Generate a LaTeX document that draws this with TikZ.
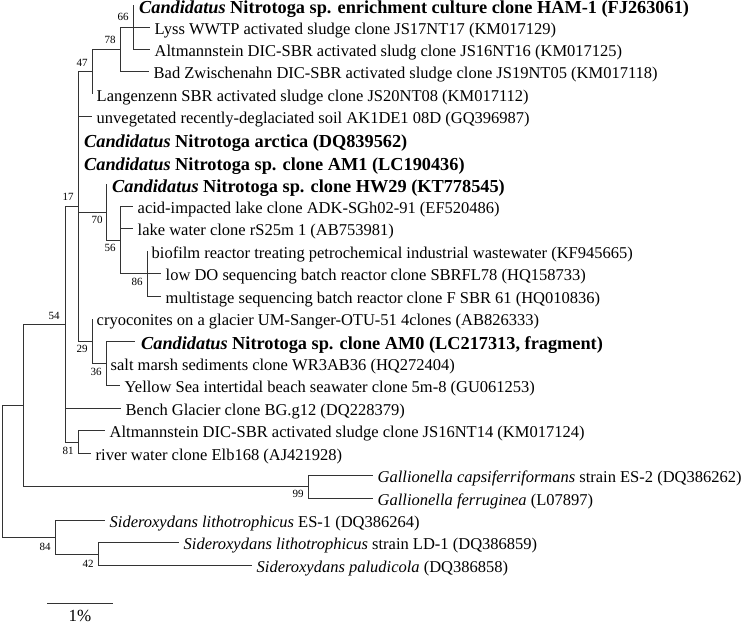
\documentclass[tikz,border=0pt]{standalone}
\usepackage{fontspec}
\setmainfont{Liberation Serif}
\begin{document}
\begin{tikzpicture}[x=1pt,y=-1pt,
  br/.style={draw=black!80, line width=0.9pt},
  lab/.style={anchor=base west, inner sep=0pt, font=\fontsize{16.5}{18}\selectfont, xshift=4.5pt, yshift=-7pt},
  blab/.style={anchor=base west, inner sep=0pt, font=\fontsize{18.3}{20}\selectfont\bfseries, xshift=6pt, yshift=-8.5pt},
  bs/.style={inner sep=0pt, font=\fontsize{11}{12}\selectfont}
]
\useasboundingbox (0,0) rectangle (750,625);
% leaf tips
\coordinate (l1) at (133,4.6);
\coordinate (l2) at (150,27.0);
\coordinate (l3) at (150,49.5);
\coordinate (l4) at (149,71.9);
\coordinate (l5) at (92,94.3);
\coordinate (l6) at (92,116.8);
\coordinate (l7) at (78,139.2);
\coordinate (l8) at (78,161.6);
\coordinate (l9) at (106,184.0);
\coordinate (l10) at (133,206.5);
\coordinate (l11) at (133,228.9);
\coordinate (l12) at (147,251.3);
\coordinate (l13) at (161,273.8);
\coordinate (l14) at (161,296.2);
\coordinate (l15) at (92,318.6);
\coordinate (l16) at (135,341.1);
\coordinate (l17) at (106,363.5);
\coordinate (l18) at (120,385.9);
\coordinate (l19) at (121,408.3);
\coordinate (l20) at (105,430.8);
\coordinate (l21) at (91,453.2);
\coordinate (l22) at (373,475.6);
\coordinate (l23) at (373,498.1);
\coordinate (l24) at (105,520.5);
\coordinate (l25) at (179,542.9);
\coordinate (l26) at (252,565.4);
% internal nodes
\coordinate (n66) at (133,27.0);
\coordinate (n78) at (120,49.5);
\coordinate (n47) at (92,71.9);
\coordinate (n86) at (147,273.8);
\coordinate (n56) at (120,240.1);
\coordinate (n70) at (106,212.1);
\coordinate (n36) at (106,363.5);
\coordinate (n29) at (92,341.1);
\coordinate (n17) at (78,206.5);
\coordinate (n81) at (78,442.0);
\coordinate (n54) at (65,324.3);
\coordinate (n99) at (308,486.9);
\coordinate (nA) at (23,405.6);
\coordinate (n42) at (98,554.2);
\coordinate (n84) at (55,537.4);
\coordinate (root) at (2.5,471.5);
% branches
\draw[br] (n66) |- (l1);
\draw[br] (n66) |- (l2);
\draw[br] (n66) |- (l3);
\draw[br] (n78) |- (n66);
\draw[br] (n78) |- (l4);
\draw[br] (n47) |- (n78);
\draw[br] (n47) |- (l5);
\draw[br] (n17) |- (n47);
\draw[br] (n17) |- (l6);
\draw[br] (n17) |- (l7);
\draw[br] (n17) |- (l8);
\draw[br] (n17) |- (n70);
\draw[br] (n17) |- (n29);
\draw[br] (n70) |- (l9);
\draw[br] (n70) |- (n56);
\draw[br] (n56) |- (l10);
\draw[br] (n56) |- (l11);
\draw[br] (n56) |- (n86);
\draw[br] (n86) |- (l12);
\draw[br] (n86) |- (l13);
\draw[br] (n86) |- (l14);
\draw[br] (n29) |- (l15);
\draw[br] (n29) |- (n36);
\draw[br] (n36) |- (l16);
\draw[br] (n36) |- (l17);
\draw[br] (n36) |- (l18);
\draw[br] (n54) |- (n17);
\draw[br] (n54) |- (l19);
\draw[br] (n54) |- (n81);
\draw[br] (n81) |- (l20);
\draw[br] (n81) |- (l21);
\draw[br] (nA) |- (n54);
\draw[br] (nA) |- (n99);
\draw[br] (n99) |- (l22);
\draw[br] (n99) |- (l23);
\draw[br] (root) |- (nA);
\draw[br] (root) |- (n84);
\draw[br] (n84) |- (l24);
\draw[br] (n84) |- (n42);
\draw[br] (n42) |- (l25);
\draw[br] (n42) |- (l26);
% leaf labels
\node[blab] (t1) at (l1) {\textit{Candidatus} Nitrotoga sp. enrichment culture clone HAM-1 (FJ263061)};
\node[lab] (t2) at (l2) {Lyss WWTP activated sludge clone JS17NT17 (KM017129)};
\node[lab] (t3) at (l3) {Altmannstein DIC-SBR activated sludg clone JS16NT16 (KM017125)};
\node[lab] (t4) at (l4) {Bad Zwischenahn DIC-SBR activated sludge clone JS19NT05 (KM017118)};
\node[lab] (t5) at (l5) {Langenzenn SBR activated sludge clone JS20NT08 (KM017112)};
\node[lab] (t6) at (l6) {unvegetated recently-deglaciated soil AK1DE1 08D (GQ396987)};
\node[blab] (t7) at (l7) {\textit{Candidatus} Nitrotoga arctica (DQ839562)};
\node[blab] (t8) at (l8) {\textit{Candidatus} Nitrotoga sp. clone AM1 (LC190436)};
\node[blab] (t9) at (l9) {\textit{Candidatus} Nitrotoga sp. clone HW29 (KT778545)};
\node[lab] (t10) at (l10) {acid-impacted lake clone ADK-SGh02-91 (EF520486)};
\node[lab] (t11) at (l11) {lake water clone rS25m 1 (AB753981)};
\node[lab] (t12) at (l12) {biofilm reactor treating petrochemical industrial wastewater (KF945665)};
\node[lab] (t13) at (l13) {low DO sequencing batch reactor clone SBRFL78 (HQ158733)};
\node[lab] (t14) at (l14) {multistage sequencing batch reactor clone F SBR 61 (HQ010836)};
\node[lab] (t15) at (l15) {cryoconites on a glacier UM-Sanger-OTU-51 4clones (AB826333)};
\node[blab] (t16) at (l16) {\textit{Candidatus} Nitrotoga sp. clone AM0 (LC217313, fragment)};
\node[lab] (t17) at (l17) {salt marsh sediments clone WR3AB36 (HQ272404)};
\node[lab] (t18) at (l18) {Yellow Sea intertidal beach seawater clone 5m-8 (GU061253)};
\node[lab] (t19) at (l19) {Bench Glacier clone BG.g12 (DQ228379)};
\node[lab] (t20) at (l20) {Altmannstein DIC-SBR activated sludge clone JS16NT14 (KM017124)};
\node[lab] (t21) at (l21) {river water clone Elb168 (AJ421928)};
\node[lab] (t22) at (l22) {\textit{Gallionella capsiferriformans} strain ES-2 (DQ386262)};
\node[lab] (t23) at (l23) {\textit{Gallionella ferruginea} (L07897)};
\node[lab] (t24) at (l24) {\textit{Sideroxydans lithotrophicus} ES-1 (DQ386264)};
\node[lab] (t25) at (l25) {\textit{Sideroxydans lithotrophicus} strain LD-1 (DQ386859)};
\node[lab] (t26) at (l26) {\textit{Sideroxydans paludicola} (DQ386858)};
% bootstrap values
\node[bs] (b66) at (123,17) {66};
\node[bs] (b78) at (110,40) {78};
\node[bs] (b47) at (82,63) {47};
\node[bs] (b17) at (68,197) {17};
\node[bs] (b70) at (97,220) {70};
\node[bs] (b56) at (110,248) {56};
\node[bs] (b86) at (137,282) {86};
\node[bs] (b29) at (82,349) {29};
\node[bs] (b36) at (96,372) {36};
\node[bs] (b54) at (54,316) {54};
\node[bs] (b81) at (68,451) {81};
\node[bs] (b99) at (298,494) {99};
\node[bs] (b84) at (45,547) {84};
\node[bs] (b42) at (88,564) {42};
% scale bar
\coordinate (sb1) at (47,603);
\coordinate (sb2) at (113,603);
\draw[br] (sb1) -- (sb2);
\node[inner sep=0pt, font=\fontsize{17}{19}\selectfont] (sbl) at (80,615.5) {1\%};
\end{tikzpicture}
\end{document}
